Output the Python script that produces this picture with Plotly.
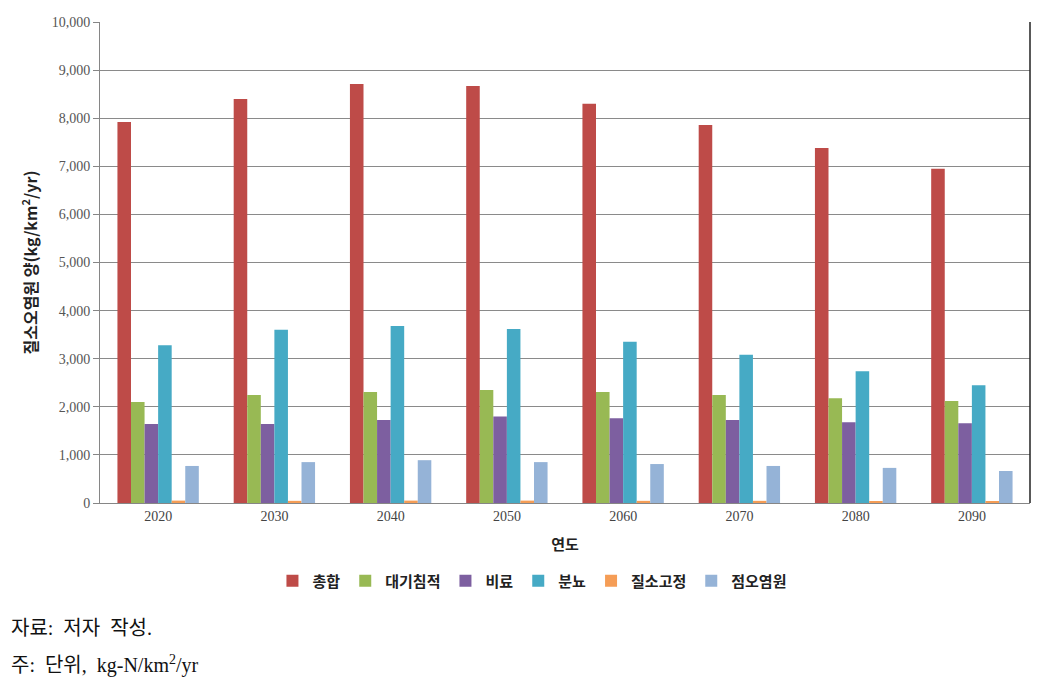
import plotly.graph_objects as go

years = ["2020", "2030", "2040", "2050", "2060", "2070", "2080", "2090"]
total = [7920, 8400, 8710, 8670, 8300, 7860, 7380, 6950]
deposition = [2100, 2245, 2310, 2350, 2310, 2245, 2180, 2120]
fertilizer = [1640, 1640, 1725, 1800, 1760, 1725, 1680, 1660]
manure = [3280, 3600, 3680, 3620, 3350, 3080, 2740, 2450]
fixation = [50, 45, 50, 50, 45, 45, 40, 40]
point_src = [770, 850, 890, 850, 810, 770, 730, 665]

series = [
    ("총합", total, "#BE4B48"),
    ("대기침적", deposition, "#98B954"),
    ("비료", fertilizer, "#7D5FA0"),
    ("분뇨", manure, "#46AAC5"),
    ("질소고정", fixation, "#F59D56"),
    ("점오염원", point_src, "#95B3D7"),
]

serif = "Liberation Serif, Noto Sans CJK KR, serif"
kfont = "Noto Sans CJK KR, sans-serif"

fig = go.Figure()
for name, vals, col in series:
    fig.add_trace(go.Bar(x=years, y=vals, name=name, marker_color=col,
                         marker_line_width=0))

fig.update_layout(
    width=1048, height=685,
    margin=dict(l=100, r=18, t=22, b=182),
    paper_bgcolor="white", plot_bgcolor="white",
    barmode="group", bargap=0.3, bargroupgap=0,
    showlegend=True,
    legend=dict(orientation="h", x=0.465, xanchor="center", y=-0.162, yanchor="middle",
                font=dict(family=kfont, size=15, color="#222", weight="bold"),
                itemwidth=30, tracegroupgap=0),
    xaxis=dict(showline=True, linecolor="#868686", ticks="",
               tickfont=dict(family=serif, size=14, color="#444"),
               title=dict(text="<b>연도</b>", font=dict(family=kfont, size=15, color="#222"),
                          standoff=16)),
    yaxis=dict(range=[0, 10000], dtick=1000, tickformat=",", showgrid=True,
               gridcolor="#8a8a8a", gridwidth=1, showline=True, linecolor="#868686",
               ticks="outside", ticklen=6, tickcolor="#868686",
               tickfont=dict(family=serif, size=14, color="#555"),
               title=dict(text="<b>질소오염원 양(kg/km<sup>2</sup>/yr)</b>",
                          font=dict(family=kfont, size=16, color="#222"), standoff=10),
               zeroline=False),
    font=dict(family=serif),
)

fig.add_shape(type="line", xref="paper", yref="paper", x0=1, x1=1, y0=0, y1=1,
              line=dict(color="#222", width=1.5))

fig.add_annotation(text="자료:  저자  작성.", xref="paper", yref="paper",
                   x=-0.098, y=-0.26, xanchor="left", yanchor="middle", showarrow=False,
                   font=dict(family=serif, size=20, color="#111"))
fig.add_annotation(text="주:  단위,  kg-N/km<sup>2</sup>/yr", xref="paper", yref="paper",
                   x=-0.098, y=-0.335, xanchor="left", yanchor="middle", showarrow=False,
                   font=dict(family=serif, size=20, color="#111"))

fig.write_html("out.html")
